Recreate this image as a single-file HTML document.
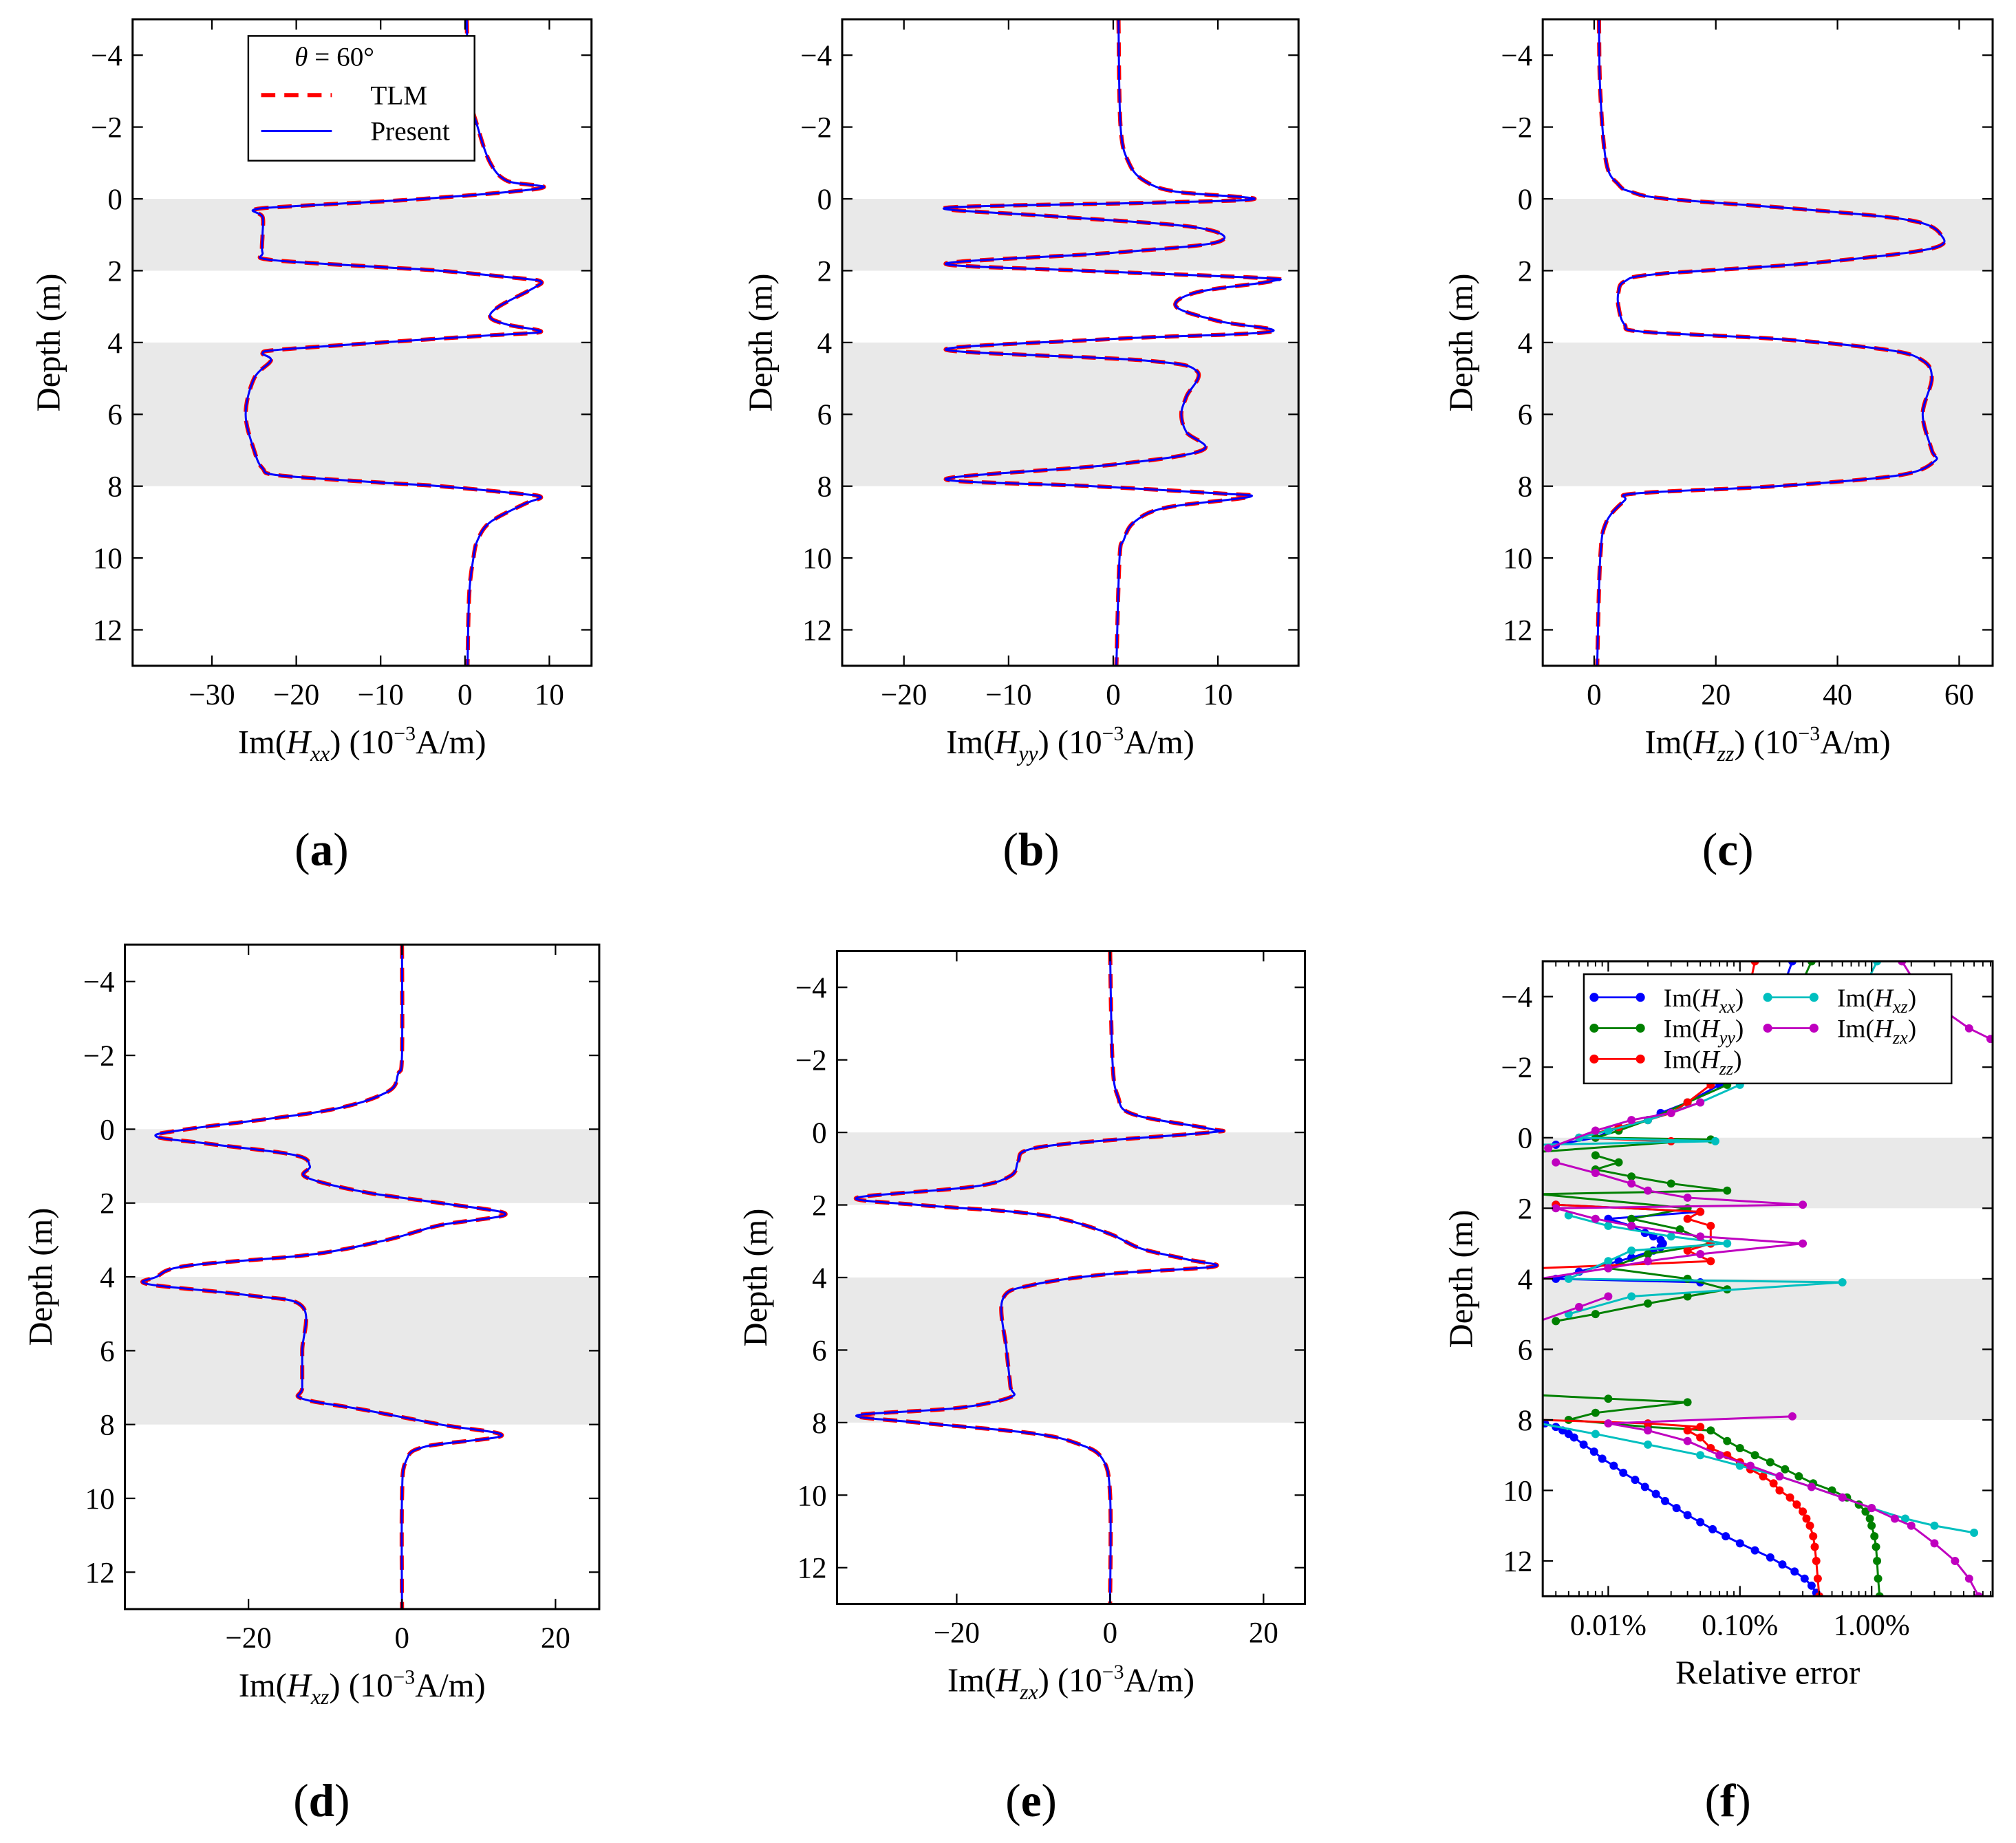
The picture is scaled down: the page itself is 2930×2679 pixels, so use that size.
<!DOCTYPE html>
<html><head><meta charset="utf-8"><style>
html,body{margin:0;padding:0;background:#fff}
svg{display:block}
text{font-family:"Liberation Serif",serif;fill:#000}
</style></head><body>
<svg id="fig" width="2930" height="2679" viewBox="0 0 1568 1434" xmlns="http://www.w3.org/2000/svg"></svg>
<script>
// ---------- data ----------
const dA=[-5,-3,-2,-1,-0.5,-0.3,0,0.2,0.3,0.5,1,1.5,1.7,1.9,2,2.2,2.3,2.5,3,3.3,3.5,3.7,3.8,4,4.2,4.3,4.5,5,6,7,7.5,7.7,7.9,8,8.2,8.3,8.5,9,9.5,10,11,13];
const vA=[0.2,0.5,1.5,3,5,9,-5,-20,-25,-24,-24,-24,-23,-10,-3,6,9,8,4,3,5,9,3,-10,-22,-24,-23,-25,-26,-25,-24,-22,-10,-3,6,9,7,3,1.5,1,0.5,0.3];
const dB=[-5,-2,-1,-0.5,-0.2,0,0.1,0.25,0.5,0.8,1.2,1.5,1.8,2,2.2,2.3,2.6,3,3.4,3.7,3.9,4.2,4.5,4.8,5.5,6,6.5,7,7.4,7.8,8,8.2,8.3,8.6,9,9.5,10,13];
const vB=[0.5,0.7,1.5,3,6,13.5,5,-16,-5,8,10,0,-16,-3,14,15,8,6,10,15,0,-16,3,8,7,6.5,7,8.5,0,-16,-2,10,13,5,2,1,0.6,0.3];
const dC=[-5,-3,-1,-0.4,-0.2,0,0.3,0.6,1,1.4,1.8,2.1,2.3,2.6,3,3.5,3.7,3.9,4.2,4.5,5,6,7,7.3,7.7,8,8.2,8.4,9,10,13];
const vC=[0.8,1,2,4,6,12,35,52,57,55,35,10,5,4,4,5,8,30,48,54,55.5,54,55.5,56,50,30,7,5,2,1,0.5];
const dD=[-5,-2,-1.5,-1,-0.5,0,0.2,0.4,0.7,1,1.3,1.7,2,2.3,2.6,3,3.4,3.7,4,4.2,4.5,4.8,6,7,7.3,7.6,8,8.3,8.6,9,10,13];
const vD=[0,0,-0.5,-2,-10,-28,-32,-25,-14,-12,-12.5,-5,5,13.5,5,-2,-12,-28,-32,-33,-20,-13,-13,-13,-13,-5,5,13,3,0.5,0,0];
const dE=[-5,-2,-1,-0.5,-0.1,0,0.3,0.5,0.8,1.2,1.5,1.8,2,2.2,2.4,2.8,3.2,3.5,3.7,3.9,4.2,4.6,6,7,7.3,7.6,7.8,8,8.3,8.6,9,10,13];
const vE=[0,0.3,1,3,13,13,-5,-11,-12,-13,-18,-33,-25,-12,-6,0,4,10,13.5,0,-10,-14,-13.5,-13,-13,-20,-33,-25,-10,-4,-1,0,0];
// relative error (%) panel f; null = gap (error below axis range)
const fBlueD=[-5,-4,-3,-2,-1.5,-1,-0.7,-0.5,-0.3,0,0.2,null,1.9,2.1,2.3,2.5,2.7,2.8,2.9,3,3.1,3.2,3.4,3.5,3.8,4,4.1,null,8.1,8.2,8.3,8.4,8.5,8.7,8.9,9.1,9.3,9.5,9.7,9.9,10.1,10.3,10.5,10.7,10.9,11.1,11.3,11.5,11.7,11.9,12.1,12.3,12.5,12.7,12.9,13];
const fBlueE=[0.25,0.2,0.15,0.1,0.07,0.04,0.025,0.02,0.012,0.008,0.004,null,0.004,0.05,0.01,0.015,0.019,0.022,0.025,0.026,0.025,0.022,0.015,0.012,0.006,0.004,0.05,null,0.0033,0.004,0.0045,0.005,0.0055,0.0065,0.0078,0.009,0.011,0.013,0.016,0.019,0.023,0.027,0.033,0.04,0.05,0.062,0.078,0.1,0.13,0.17,0.21,0.26,0.31,0.35,0.38,0.4];
const fGreenD=[-5,-3,-1.5,-1,-0.5,-0.2,0,0.05,0.4,null,0.5,0.7,0.9,1.1,1.3,1.5,1.6,2,2.3,2.6,3,3.3,3.7,4,4.3,4.5,4.7,5,5.2,null,7.3,7.4,7.5,7.8,8,8.2,8.3,8.6,8.8,9,9.2,9.4,9.6,9.8,10,10.2,10.4,10.6,10.8,11,11.3,11.6,12,12.5,13];
const fGreenE=[0.35,0.2,0.08,0.04,0.02,0.012,0.008,0.06,0.003,null,0.008,0.012,0.008,0.015,0.03,0.08,0.003,0.04,0.015,0.035,0.06,0.02,0.01,0.04,0.08,0.04,0.02,0.008,0.004,null,0.003,0.01,0.04,0.008,0.005,0.02,0.06,0.08,0.1,0.13,0.17,0.22,0.28,0.36,0.5,0.65,0.8,0.9,0.97,1.0,1.05,1.08,1.1,1.12,1.15];
const fRedD=[-5,-3,-1.5,-1,-0.7,-0.5,-0.3,0,0.1,null,1.9,2.1,2.3,2.5,3,3.2,3.5,3.7,null,8,8.1,8.2,8.3,8.5,8.8,9,9.2,9.4,9.6,9.8,10,10.2,10.4,10.6,10.8,11,11.3,11.6,12,12.5,13];
const fRedE=[0.13,0.1,0.06,0.04,0.03,0.02,0.012,0.006,0.03,null,0.004,0.05,0.04,0.06,0.06,0.04,0.06,0.003,null,0.003,0.02,0.05,0.04,0.05,0.06,0.08,0.1,0.12,0.15,0.18,0.2,0.24,0.27,0.3,0.32,0.34,0.36,0.37,0.38,0.39,0.4];
const fCyanD=[-5,-3,-1.5,-1,-0.5,-0.2,0,0.1,0.2,null,2.2,2.5,2.8,3,3.2,3.5,4,4.1,4.5,5,null,8.1,8.4,8.7,9,9.3,9.6,9.9,10.2,10.5,10.8,11,11.2];
const fCyanE=[1.1,0.6,0.1,0.05,0.02,0.01,0.006,0.065,0.003,null,0.005,0.01,0.03,0.08,0.015,0.01,0.005,0.6,0.015,0.005,null,0.003,0.008,0.02,0.05,0.1,0.2,0.35,0.6,1,1.8,3,6];
const fMagD=[-5,-4,-3.1,-2.8,null,-1,-0.7,-0.5,-0.2,0.3,null,0.7,1,1.3,1.5,1.7,1.9,2,2.3,2.5,2.8,3,3.3,3.5,3.7,4,null,4.5,4.8,5.2,null,7.9,8.1,8.3,8.6,9,9.3,9.6,9.9,10.2,10.5,10.8,11,11.5,12,12.5,13];
const fMagE=[1.7,2.5,5.5,8,null,0.05,0.03,0.015,0.008,0.0035,null,0.004,0.008,0.015,0.02,0.04,0.3,0.004,0.008,0.015,0.05,0.3,0.05,0.02,0.01,0.003,null,0.01,0.006,0.003,null,0.25,0.01,0.02,0.04,0.07,0.12,0.2,0.35,0.6,1.0,1.5,2,3,4.3,5.5,6.5];
const xTicksA=[-30,-20,-10,0,10], xTicksB=[-20,-10,0,10], xTicksC=[0,20,40,60], xTicksD=[-20,0,20], xTicksF=[0.01,0.1,1];
const yTicks=[-4,-2,0,2,4,6,8,10,12];

const NS="http://www.w3.org/2000/svg";
const svg=document.getElementById('fig');
function mk(tag,attrs,parent,txt){const e=document.createElementNS(NS,tag);for(const k in attrs)e.setAttribute(k,attrs[k]);if(txt!==undefined)e.textContent=txt;(parent||svg).appendChild(e);return e;}

function panel(o){
  const g=mk('g',{});
  
  
  const L=o.box[0],T=o.box[1],R=o.box[2],B=o.box[3];
  const sx=v=>o.log? L+(Math.log10(v)-Math.log10(o.xr[0]))/(Math.log10(o.xr[1])-Math.log10(o.xr[0]))*(R-L) : L+(v-o.xr[0])/(o.xr[1]-o.xr[0])*(R-L);
  const sy=d=>T+(d-(-5))/(13-(-5))*(B-T);
  [[0,2],[4,8]].forEach(b=>{const r=mk('rect',{x:L,y:sy(b[0]),width:R-L,height:sy(b[1])-sy(b[0]),fill:'#e9e9e9'},g);
    });
  const clipId='c'+o.name;const cp=mk('clipPath',{id:clipId},g);mk('rect',{x:L,y:T,width:R-L,height:B-T},cp);
  const pg=mk('g',{'clip-path':'url(#'+clipId+')'},g);
  o.series.forEach(s=>{
    const pts=s.d.map((d,i)=>(d===null||s.v[i]===null)?null:[sx(s.v[i]),sy(d)]);
    let dstr='';
    if(s.smooth){dstr='M'+pts[0][0]+','+pts[0][1];
      for(let i=0;i<pts.length-1;i++){const p0=pts[Math.max(0,i-1)],p1=pts[i],p2=pts[i+1],p3=pts[Math.min(pts.length-1,i+2)];
        const c1=[p1[0]+(p2[0]-p0[0])/6,p1[1]+(p2[1]-p0[1])/6],c2=[p2[0]-(p3[0]-p1[0])/6,p2[1]-(p3[1]-p1[1])/6];
        dstr+=' C'+c1[0]+','+c1[1]+' '+c2[0]+','+c2[1]+' '+p2[0]+','+p2[1];}
    } else {let pen=false;pts.forEach(p=>{if(!p){pen=false;return;}dstr+=(pen?' L':' M')+p[0]+','+p[1];pen=true;});}
    const p=mk('path',{d:dstr,fill:'none',stroke:s.color,'stroke-width':s.w,'stroke-dasharray':s.dash||'none'},pg);
    
    
    if(s.marker){pts.forEach(q=>{if(!q)return;const c=mk('circle',{cx:q[0],cy:q[1],r:3.2,fill:s.color},pg);
      });}
  });
  mk('rect',{x:L,y:T,width:R-L,height:B-T,fill:'none',stroke:'#000','stroke-width':1.6},g);
  yTicks.forEach(t=>{const y=sy(t);
    mk('line',{x1:L,y1:y,x2:L+8,y2:y,stroke:'#000','stroke-width':1.2},g);
    mk('line',{x1:R,y1:y,x2:R-8,y2:y,stroke:'#000','stroke-width':1.2},g);
    const tx=mk('text',{x:L-8,y:y+8,'font-size':23,'text-anchor':'end'},g,t<0?'\u2212'+(-t):String(t));
    });
  o.xt.forEach(t=>{const x=sx(t);
    mk('line',{x1:x,y1:B,x2:x,y2:B-8,stroke:'#000','stroke-width':1.2},g);
    mk('line',{x1:x,y1:T,x2:x,y2:T+8,stroke:'#000','stroke-width':1.2},g);
    const lab=o.log?(t>=1?t.toFixed(2):t<0.1?'0.01':'0.10')+'%':(t<0?'\u2212'+(-t):String(t));
    const tx=mk('text',{x:x,y:B+30,'font-size':23,'text-anchor':'middle'},g,lab);
    });
  if(o.log){for(let dec=-5;dec<=0;dec++)for(let m=2;m<10;m++){const v=m*Math.pow(10,dec);if(v>o.xr[0]&&v<o.xr[1]){const x=sx(v);
    mk('line',{x1:x,y1:B,x2:x,y2:B-4,stroke:'#000','stroke-width':1},g);mk('line',{x1:x,y1:T,x2:x,y2:T+4,stroke:'#000','stroke-width':1},g);}}}
  const yl=mk('text',{x:0,y:0,'font-size':26,'text-anchor':'middle',transform:'translate('+o.ylx+','+((T+B)/2)+') rotate(-90)'},g,'Depth  (m)');
  
  const xl=mk('text',{x:(L+R)/2,y:B+68,'font-size':26,'text-anchor':'middle'},g);
  
  xl.innerHTML=o.xlab;
  const pl=mk('text',{x:o.plx,y:o.ply,'font-size':36,'text-anchor':'middle'},g);
  
  pl.innerHTML=o.pl;
  return {g,sx,sy};
}
function cmp(d,v){return [{d:d,v:v,color:'#ff0000',w:3.2,dash:'11,7',label:'tlm-curve',smooth:true},{d:d,v:v,color:'#0000ff',w:1.6,label:'present-curve',smooth:true}];}
function xlab(sub){return 'Im(<tspan font-style="italic">H</tspan><tspan font-style="italic" font-size="17" dy="6">'+sub+'</tspan><tspan dy="-6">)  (10</tspan><tspan font-size="16" dy="-10">\u22123</tspan><tspan dy="10">A/m)</tspan>';}

panel({name:'panel-a',box:[103,15,460,518],xr:[-39.4,15],xt:xTicksA,series:cmp(dA,vA),ylx:46,xlab:xlab('xx'),pl:'(<tspan font-weight="bold">a</tspan>)',plx:250,ply:673});
panel({name:'panel-b',box:[655,15,1010,518],xr:[-25.9,17.7],xt:xTicksB,series:cmp(dB,vB),ylx:600,xlab:xlab('yy'),pl:'(<tspan font-weight="bold">b</tspan>)',plx:802,ply:673});
panel({name:'panel-c',box:[1200,15,1550,518],xr:[-8.45,65.5],xt:xTicksC,series:cmp(dC,vC),ylx:1145,xlab:xlab('zz'),pl:'(<tspan font-weight="bold">c</tspan>)',plx:1344,ply:673});
panel({name:'panel-d',box:[97,735,466,1252],xr:[-36.1,25.7],xt:xTicksD,series:cmp(dD,vD),ylx:40,xlab:xlab('xz'),pl:'(<tspan font-weight="bold">d</tspan>)',plx:250,ply:1413});
panel({name:'panel-e',box:[651,740,1015,1248],xr:[-35.6,25.4],xt:xTicksD,series:cmp(dE,vE),ylx:596,xlab:xlab('zx'),pl:'(<tspan font-weight="bold">e</tspan>)',plx:802,ply:1413});
const fs=[['#0000ff',fBlueD,fBlueE,'hxx-error'],['#008000',fGreenD,fGreenE,'hyy-error'],['#ff0000',fRedD,fRedE,'hzz-error'],['#00bfbf',fCyanD,fCyanE,'hxz-error'],['#bf00bf',fMagD,fMagE,'hzx-error']]
  .map(s=>({d:s[1],v:s[2],color:s[0],w:1.6,marker:true,label:s[3]}));
panel({name:'panel-f',box:[1200,748,1550,1242],xr:[0.00318,8.3],xt:xTicksF,log:true,series:fs,ylx:1145,xlab:'Relative error',pl:'(<tspan font-weight="bold">f</tspan>)',plx:1344,ply:1413});

// legend a
const la=mk('g',{});
mk('rect',{x:193,y:28,width:176,height:97,fill:'#fff',stroke:'#000','stroke-width':1.3},la);
mk('text',{x:260,y:51,'font-size':21,'text-anchor':'middle'},la).innerHTML='<tspan font-style="italic">θ</tspan> = 60°';
mk('line',{x1:203,y1:74,x2:258,y2:74,stroke:'#ff0000','stroke-width':3.2,'stroke-dasharray':'11,7'},la);
mk('text',{x:288,y:81,'font-size':21},la,'TLM');
mk('line',{x1:203,y1:102,x2:258,y2:102,stroke:'#0000ff','stroke-width':1.6},la);
mk('text',{x:288,y:109,'font-size':21},la,'Present');

// legend f
const lf=mk('g',{});
mk('rect',{x:1232,y:758,width:286,height:85,fill:'#fff',stroke:'#000','stroke-width':1.3},lf);
const lent=[[1240,776,'#0000ff','xx'],[1240,800,'#008000','yy'],[1240,824,'#ff0000','zz'],[1375,776,'#00bfbf','xz'],[1375,800,'#bf00bf','zx']];
lent.forEach(e=>{const it=mk('g',{},lf);
  mk('line',{x1:e[0],y1:e[1],x2:e[0]+36,y2:e[1],stroke:e[2],'stroke-width':1.5},it);
  mk('circle',{cx:e[0],cy:e[1],r:3.5,fill:e[2]},it);mk('circle',{cx:e[0]+36,cy:e[1],r:3.5,fill:e[2]},it);
  mk('text',{x:e[0]+54,y:e[1]+7,'font-size':20},it).innerHTML='Im(<tspan font-style="italic">H</tspan><tspan font-style="italic" font-size="14" dy="5">'+e[3]+'</tspan><tspan dy="-5">)</tspan>';});
</script>
</body></html>
